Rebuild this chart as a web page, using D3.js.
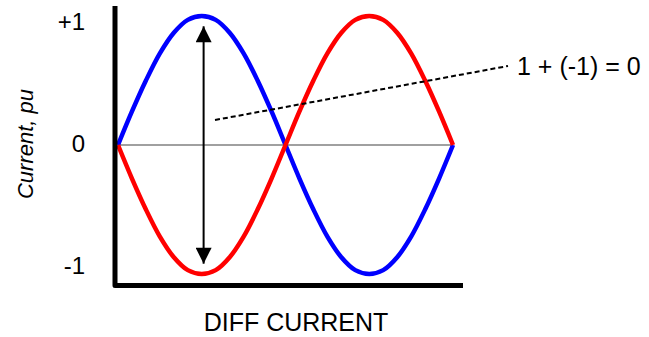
<!DOCTYPE html>
<html lang="en">
    <head>
        <meta charset="utf-8">
        <title>Diff Current</title>
        <script type="text/javascript" src="https://d3js.org/d3.v7.min.js"></script>
        <style type="text/css">
            body { margin: 0; background: #fff; }
            text { font-family: Arial, "Liberation Sans", sans-serif; fill: #000; }
        </style>
    </head>
    <body>
        <script type="text/javascript">

        //Data - phase in degrees, current in pu
        const phase = [0, 15, 30, 45, 60, 75, 90, 105, 120, 135, 150, 165, 180,
                       195, 210, 225, 240, 255, 270, 285, 300, 315, 330, 345, 360];
        const blueCurrent = [0, 0.26, 0.5, 0.71, 0.87, 0.97, 1, 0.97, 0.87, 0.71, 0.5, 0.26, 0,
                             -0.26, -0.5, -0.71, -0.87, -0.97, -1, -0.97, -0.87, -0.71, -0.5, -0.26, 0];
        const redCurrent = [0, -0.26, -0.5, -0.71, -0.87, -0.97, -1, -0.97, -0.87, -0.71, -0.5, -0.26, 0,
                            0.26, 0.5, 0.71, 0.87, 0.97, 1, 0.97, 0.87, 0.71, 0.5, 0.26, 0];
        const tickValues = [1, 0, -1];
        const tickLabels = ["+1", "0", "-1"];
        const arrowPhase = 92;
        const noteText = "1 + (-1) = 0";

        const width = 649;
        const height = 337;

        //Scales
        const xScale = d3.scaleLinear()
                        .domain([0, 360])
                        .range([118, 453]);

        const yScale = d3.scaleLinear()
                        .domain([-1, 1])
                        .range([274, 16]);

        //tick labels sit a bit inside the peaks in the original
        const labelScale = d3.scaleLinear()
                        .domain([-1, 1])
                        .range([265, 21]);

        const svg = d3.select("body")
                    .append("svg")
                    .attr("width", width)
                    .attr("height", height);

        //Zero line
        svg.append("line")
            .attr("x1", xScale(0))
            .attr("x2", xScale(360))
            .attr("y1", yScale(0))
            .attr("y2", yScale(0))
            .attr("stroke", "#808080")
            .attr("stroke-width", 1.5);

        //Curves
        const line = d3.line()
                        .x((d, i) => xScale(phase[i]))
                        .y(d => yScale(d))
                        .curve(d3.curveCatmullRom);

        svg.append("path")
            .datum(blueCurrent)
            .attr("d", line)
            .attr("fill", "none")
            .attr("stroke", "#0000ff")
            .attr("stroke-width", 4.5);

        svg.append("path")
            .datum(redCurrent)
            .attr("d", line)
            .attr("fill", "none")
            .attr("stroke", "#ff0000")
            .attr("stroke-width", 4.5);

        //Axes (thick black L)
        svg.append("path")
            .attr("d", "M115,6 L115,285.5 L463,285.5")
            .attr("fill", "none")
            .attr("stroke", "#000")
            .attr("stroke-width", 5)
            .attr("stroke-linejoin", "round");

        //Tick labels
        svg.selectAll(".tick-label")
            .data(tickValues)
            .enter()
            .append("text")
            .attr("class", "tick-label")
            .attr("x", 85)
            .attr("y", d => labelScale(d))
            .attr("dy", "0.36em")
            .attr("text-anchor", "end")
            .attr("font-size", "24px")
            .text((d, i) => tickLabels[i]);

        //Y title
        svg.append("text")
            .attr("transform", "translate(33,144) rotate(-90)")
            .attr("text-anchor", "middle")
            .attr("font-size", "22px")
            .attr("font-style", "italic")
            .text("Current, pu");

        //X title
        svg.append("text")
            .attr("x", 296)
            .attr("y", 331)
            .attr("text-anchor", "middle")
            .attr("font-size", "25px")
            .text("DIFF CURRENT");

        //Double headed arrow at the peak
        svg.append("defs").append("marker")
            .attr("id", "head")
            .attr("viewBox", "0 0 10 10")
            .attr("refX", 10)
            .attr("refY", 5)
            .attr("markerUnits", "userSpaceOnUse")
            .attr("markerWidth", 25)
            .attr("markerHeight", 16)
            .attr("orient", "auto-start-reverse")
            .append("path")
            .attr("d", "M0,0 L10,5 L0,10 Z")
            .attr("fill", "#000");

        svg.append("line")
            .attr("x1", xScale(arrowPhase))
            .attr("x2", xScale(arrowPhase))
            .attr("y1", yScale(0.92))
            .attr("y2", yScale(-0.92))
            .attr("stroke", "#000")
            .attr("stroke-width", 2)
            .attr("marker-start", "url(#head)")
            .attr("marker-end", "url(#head)");

        //Dashed note line and label
        svg.append("line")
            .attr("x1", 215)
            .attr("y1", 120)
            .attr("x2", 508)
            .attr("y2", 66)
            .attr("stroke", "#000")
            .attr("stroke-width", 2)
            .attr("stroke-dasharray", "5,3");

        svg.append("text")
            .attr("x", 517)
            .attr("y", 75)
            .attr("font-size", "25px")
            .text(noteText);

        </script>
    </body>
</html>
